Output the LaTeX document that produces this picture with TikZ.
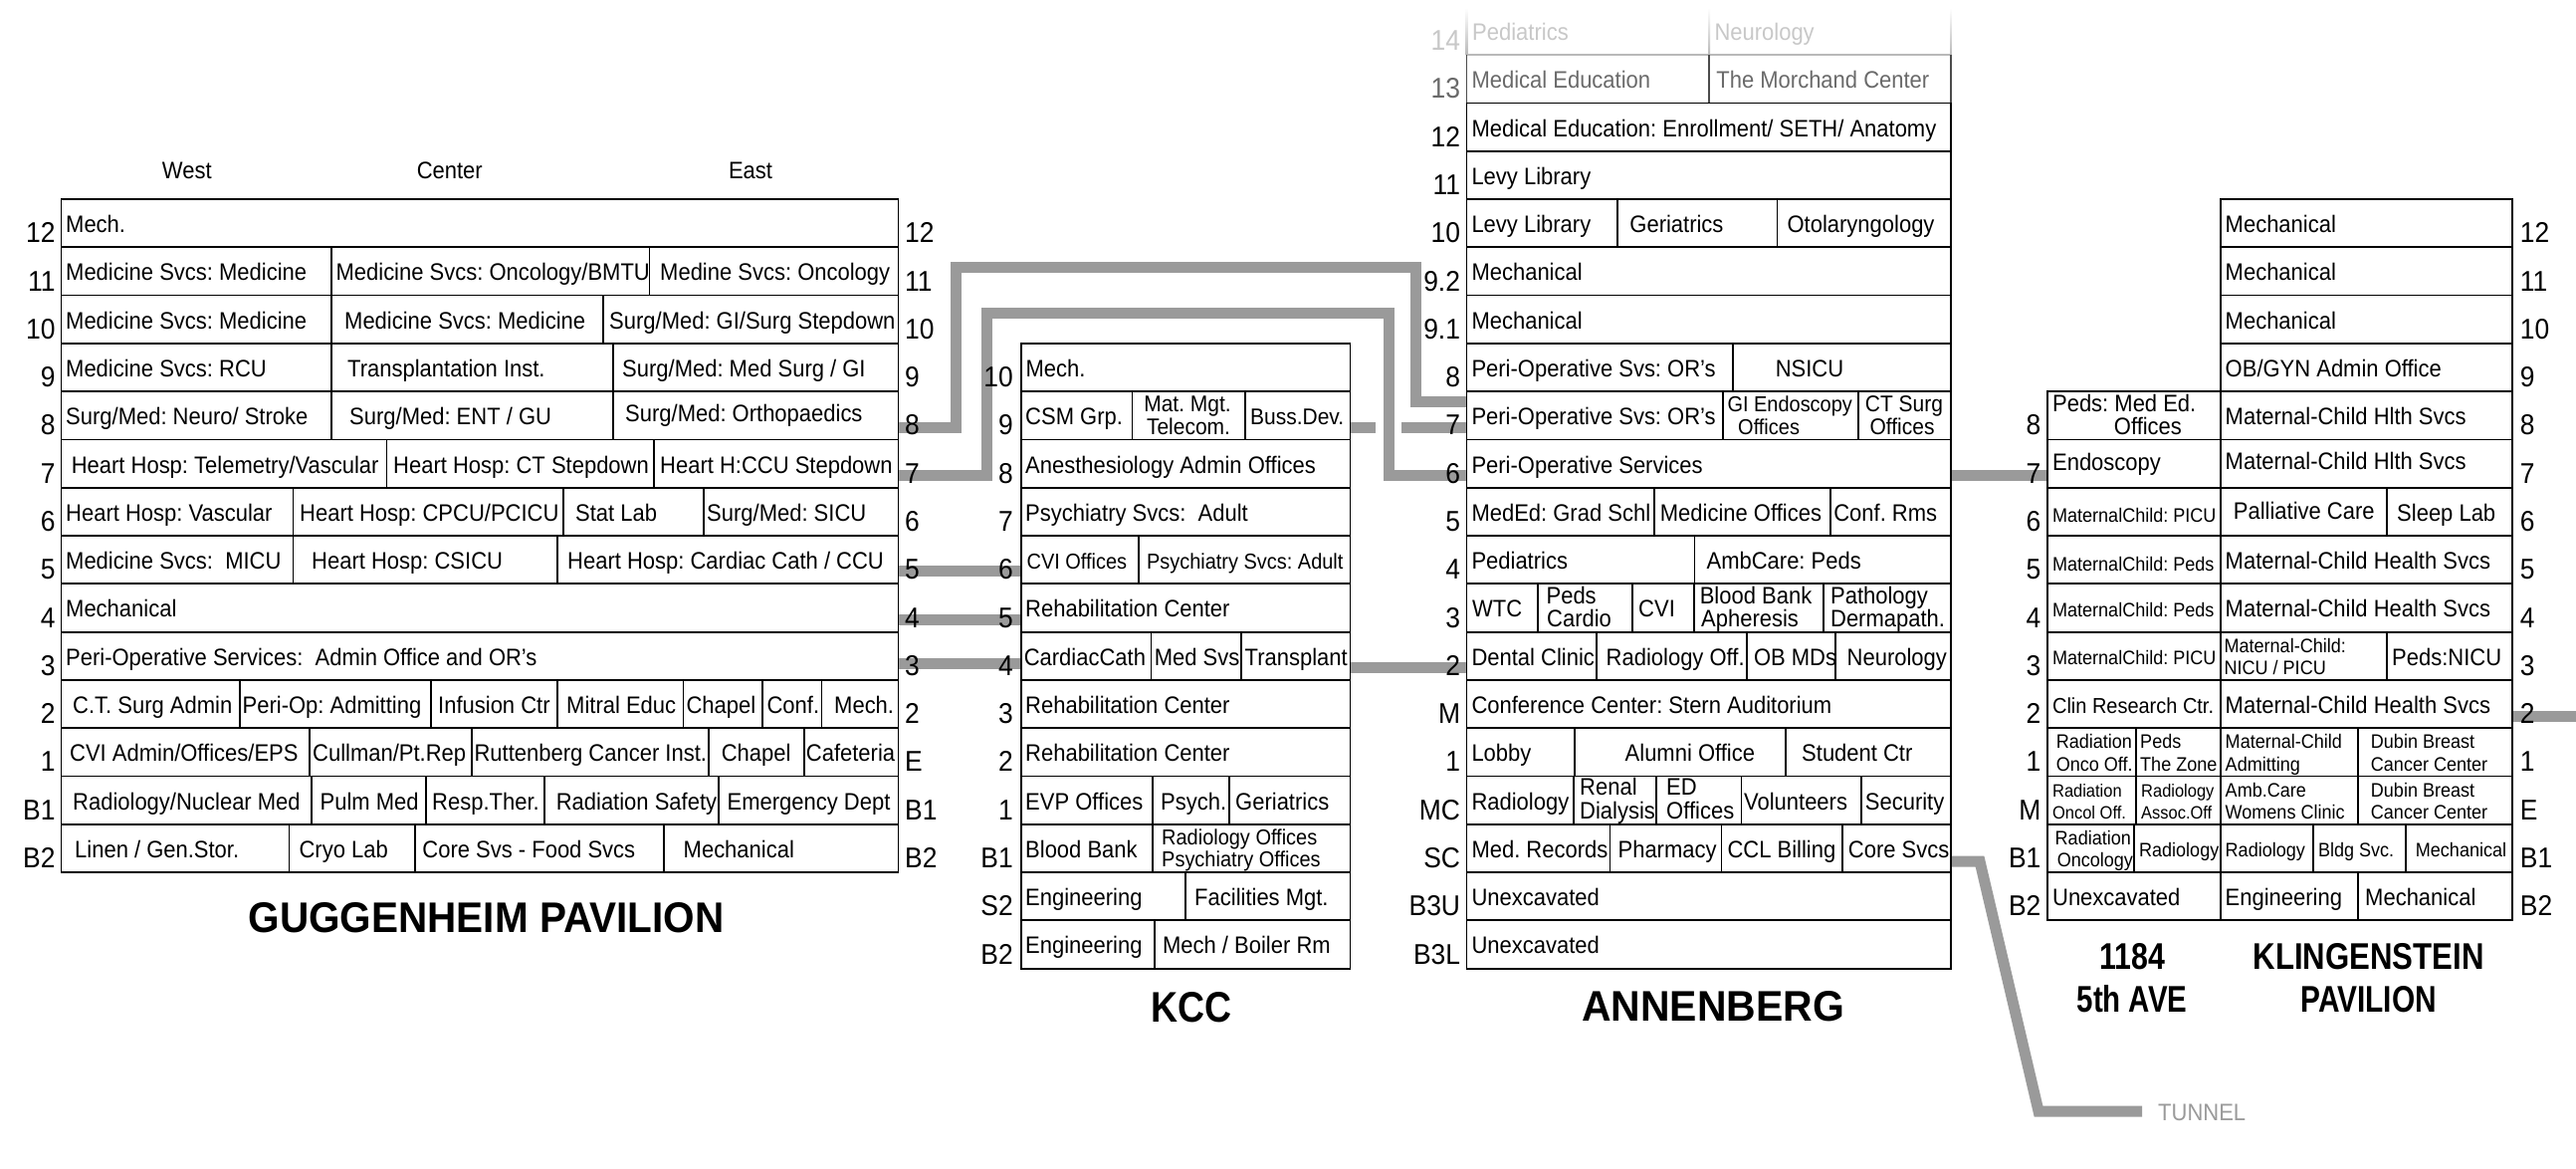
\documentclass[tikz,border=0pt]{standalone}
\usepackage{fontspec}
\usepackage{graphicx}
\setmainfont{Liberation Sans}[FakeStretch=0.92]
\newfontfamily\ttlfont{Liberation Sans}
\frenchspacing
\newcommand\fA{\fontsize{23.9}{24}\selectfont}
\newcommand\fB{\fontsize{21.7}{22}\selectfont}
\newcommand\fC{\fontsize{19.6}{20}\selectfont}
\newcommand\fD{\fontsize{17.9}{18}\selectfont}
\newcommand\fE{\fontsize{22.8}{23}\selectfont}
\newcommand\fL{\fontsize{28.7}{29}\selectfont}
\newcommand\fT{\ttlfont\bfseries\fontsize{43}{43}\selectfont}
\newcommand\fS{\ttlfont\bfseries\fontsize{37.3}{37.3}\selectfont}
\newcommand\apo{\char39\relax}
\definecolor{connc}{HTML}{9A9A9A}
\definecolor{fadeA}{HTML}{C8C8C8}
\definecolor{fadeB}{HTML}{6A6A6A}
\tikzset{
  boxline/.style={line width=1.8pt, draw=black},
  conn/.style={line width=11pt, draw=connc, line join=miter},
  tx/.style={anchor=base west, inner sep=0pt, font=\fA},
  txB/.style={tx, font=\fB},
  txC/.style={tx, font=\fC},
  txD/.style={tx, font=\fD},
  txE/.style={tx, font=\fE},
  lbL/.style={anchor=base east, inner sep=0pt, font=\fL},
  lbR/.style={anchor=base west, inner sep=0pt, font=\fL},
  ttlA/.style={anchor=base, inner sep=0pt, font=\fT},
  ttlB/.style={anchor=base, inner sep=0pt, font=\fS}
}
\begin{document}
\begin{tikzpicture}[x=1pt, y=-1pt,
  declare function={G(\k)=200+48.29*\k; B(\k)=G(\k)+33.6; S(\k)=G(\k)+33; U(\k)=G(\k)+20.6; V(\k)=G(\k)+43; L(\k)=G(\k)+43.8;}]
\fill[white] (0,0) rectangle (2588,1174);
\useasboundingbox (0,0) rectangle (2588,1174);

% ---------------- connectors ----------------
\coordinate (a0) at (902.5,429.5); \coordinate (a1) at (960,429.5);
\coordinate (a2) at (960,269);     \coordinate (a3) at (1422,269);
\coordinate (a4) at (1422,403);    \coordinate (a5) at (1473.5,403);
\draw[conn] (a0) -- (a1) -- (a2) -- (a3) -- (a4) -- (a5);
\coordinate (b0) at (902.5,477.5); \coordinate (b1) at (991.5,477.5);
\coordinate (b2) at (991.5,314);   \coordinate (b3) at (1395.5,314);
\coordinate (b4) at (1395.5,477.5);\coordinate (b5) at (1473.5,477.5);
\draw[conn] (b0) -- (b1) -- (b2) -- (b3) -- (b4) -- (b5);
\coordinate (c0) at (1356.4,429); \coordinate (c1) at (1382,429);
\coordinate (c2) at (1408,429);   \coordinate (c3) at (1473.5,429);
\draw[conn] (c0) -- (c1);
\draw[conn] (c2) -- (c3);
\coordinate (d0) at (902.5,573);  \coordinate (d1) at (1025.7,573);
\draw[conn] (d0) -- (d1);
\coordinate (e0) at (902.5,622.5);\coordinate (e1) at (1025.7,622.5);
\draw[conn] (e0) -- (e1);
\coordinate (f0) at (902.5,666);  \coordinate (f1) at (1025.7,666);
\draw[conn] (f0) -- (f1);
\coordinate (g0) at (1356.4,670); \coordinate (g1) at (1473.5,670);
\draw[conn] (g0) -- (g1);
\coordinate (h0) at (1960,477);   \coordinate (h1) at (2057,477);
\draw[conn] (h0) -- (h1);
\coordinate (i0) at (2524.2,719); \coordinate (i1) at (2588,719);
\draw[conn] (i0) -- (i1);
\coordinate (j0) at (1960,865);   \coordinate (j1) at (1989,865);
\coordinate (j2) at (2048,1116);  \coordinate (j3) at (2152,1116);
\draw[conn] (j0) -- (j1) -- (j2) -- (j3);
\node[tx, text=connc] (tunnel) at (2168,1125) {TUNNEL};

% ---------------- GUGGENHEIM ----------------
\node[tx, anchor=base] (hWest) at (187.8,179.3) {West};
\node[tx, anchor=base] (hCenter) at (451.8,179.3) {Center};
\node[tx, anchor=base] (hEast) at (754,179.3) {East};
\foreach \k in {0,...,13} \draw[boxline] (61.5,{G(\k)}) rectangle (902.5,{G(\k+1)});
\foreach \k/\x in {1/333.3,1/652.5,2/333.3,2/606.1,3/333.3,3/616.1,4/333.3,4/616.1,5/388.4,5/657.2,6/294.5,6/566.2,6/707,7/294.5,7/560.3,10/240.6,10/433,10/560.3,10/686.5,10/765.7,10/825.5,11/311,11/474.1,11/711.7,11/808,12/312.7,12/428.3,12/546.8,12/721.7,13/290.4,13/416.6,13/667.1}
  \draw[boxline] (\x,{G(\k)}) -- (\x,{G(\k+1)});
\node[tx] (g0a) at (66,{B(0)}) {Mech.};
\node[tx] (g1a) at (66,{B(1)}) {Medicine Svcs: Medicine};
\node[tx] (g1b) at (337.4,{B(1)}) {Medicine Svcs: Oncology/BMTU};
\node[tx] (g1c) at (663,{B(1)}) {Medine Svcs: Oncology};
\node[tx] (g2a) at (66,{B(2)}) {Medicine Svcs: Medicine};
\node[tx] (g2b) at (346,{B(2)}) {Medicine Svcs: Medicine};
\node[tx] (g2c) at (612,{B(2)}) {Surg/Med: GI/Surg Stepdown};
\node[tx] (g3a) at (66,{B(3)}) {Medicine Svcs: RCU};
\node[tx] (g3b) at (349,{B(3)}) {Transplantation Inst.};
\node[tx] (g3c) at (625,{B(3)}) {Surg/Med: Med Surg / GI};
\node[tx] (g4a) at (66,{B(4)}) {Surg/Med: Neuro/ Stroke};
\node[tx] (g4b) at (351,{B(4)}) {Surg/Med: ENT / GU};
\node[tx] (g4c) at (628,{B(4)-3}) {Surg/Med: Orthopaedics};
\node[tx] (g5a) at (71.6,{B(5)}) {Heart Hosp: Telemetry/Vascular};
\node[tx] (g5b) at (395,{B(5)}) {Heart Hosp: CT Stepdown};
\node[tx] (g5c) at (663,{B(5)}) {Heart H:CCU Stepdown};
\node[tx] (g6a) at (66,{B(6)}) {Heart Hosp: Vascular};
\node[tx] (g6b) at (301,{B(6)}) {Heart Hosp: CPCU/PCICU};
\node[tx] (g6c) at (578,{B(6)}) {Stat Lab};
\node[tx] (g6d) at (710,{B(6)}) {Surg/Med: SICU};
\node[tx] (g7a) at (66,{B(7)}) {Medicine Svcs:\ \ MICU};
\node[tx] (g7b) at (313,{B(7)}) {Heart Hosp: CSICU};
\node[tx] (g7c) at (570,{B(7)}) {Heart Hosp: Cardiac Cath / CCU};
\node[tx] (g8a) at (66,{B(8)}) {Mechanical};
\node[tx] (g9a) at (66,{B(9)}) {Peri-Operative Services:\ \ Admin Office and OR\apo s};
\node[tx] (g10a) at (73,{B(10)}) {C.T. Surg Admin};
\node[tx] (g10b) at (243.5,{B(10)}) {Peri-Op: Admitting};
\node[tx] (g10c) at (440,{B(10)}) {Infusion Ctr};
\node[tx] (g10d) at (569,{B(10)}) {Mitral Educ};
\node[tx] (g10e) at (689.4,{B(10)}) {Chapel};
\node[tx] (g10f) at (770.4,{B(10)}) {Conf.};
\node[tx] (g10g) at (838,{B(10)}) {Mech.};
\node[tx] (g11a) at (70,{B(11)}) {CVI Admin/Offices/EPS};
\node[tx] (g11b) at (314,{B(11)}) {Cullman/Pt.Rep};
\node[tx] (g11c) at (476.4,{B(11)}) {Ruttenberg Cancer Inst.};
\node[tx] (g11d) at (724.6,{B(11)}) {Chapel};
\node[tx] (g11e) at (809.7,{B(11)}) {Cafeteria};
\node[tx] (g12a) at (73,{B(12)}) {Radiology/Nuclear Med};
\node[tx] (g12b) at (321.5,{B(12)}) {Pulm Med};
\node[tx] (g12c) at (434,{B(12)}) {Resp.Ther.};
\node[tx] (g12d) at (558.6,{B(12)}) {Radiation Safety};
\node[tx] (g12e) at (730.5,{B(12)}) {Emergency Dept};
\node[tx] (g13a) at (75,{B(13)}) {Linen / Gen.Stor.};
\node[tx] (g13b) at (300.4,{B(13)}) {Cryo Lab};
\node[tx] (g13c) at (424.2,{B(13)}) {Core Svs - Food Svcs};
\node[tx] (g13d) at (686.5,{B(13)}) {Mechanical};
\foreach \n [count=\i from 0] in {12,11,10,9,8,7,6,5,4,3,2,1,B1,B2}
  \node[lbL] (gl\i) at (55.7,{L(\i)}) {\n};
\foreach \n [count=\i from 0] in {12,11,10,9,8,7,6,5,4,3,2,E,B1,B2}
  \node[lbR] (gr\i) at (909,{L(\i)}) {\n};
\node[ttlA] (tGug) at (488.5,936.7) {\scalebox{0.942}[1]{GUGGENHEIM PAVILION}};

% ---------------- KCC ----------------
\foreach \k in {3,...,15} \draw[boxline] (1025.7,{G(\k)}) rectangle (1356.4,{G(\k+1)});
\foreach \k/\x in {4/1137.5,4/1251,7/1143.6,9/1156.4,9/1247.1,12/1157.9,12/1235,13/1157.9,14/1191,15/1159.6}
  \draw[boxline] (\x,{G(\k)}) -- (\x,{G(\k+1)});
\node[tx] (k3a) at (1030.4,{B(3)}) {Mech.};
\node[tx] (k4a) at (1030,{B(4)}) {CSM Grp.};
\node[txE, anchor=base] (k4b) at (1193,{U(4)}) {Mat. Mgt.};
\node[txE, anchor=base] (k4c) at (1194,{V(4)}) {Telecom.};
\node[txE] (k4d) at (1256,{B(4)}) {Buss.Dev.};
\node[tx] (k5a) at (1030,{B(5)}) {Anesthesiology Admin Offices};
\node[tx] (k6a) at (1030,{B(6)}) {Psychiatry Svcs:\ \ Adult};
\node[txB] (k7a) at (1031.4,{S(7)}) {CVI Offices};
\node[txB] (k7b) at (1151.8,{S(7)}) {Psychiatry Svcs: Adult};
\node[tx] (k8a) at (1030,{B(8)}) {Rehabilitation Center};
\node[tx] (k9a) at (1028.6,{B(9)}) {CardiacCath};
\node[tx] (k9b) at (1159.6,{B(9)}) {Med Svs};
\node[tx] (k9c) at (1250.5,{B(9)}) {Transplant};
\node[tx] (k10a) at (1030,{B(10)}) {Rehabilitation Center};
\node[tx] (k11a) at (1030,{B(11)}) {Rehabilitation Center};
\node[tx] (k12a) at (1030,{B(12)}) {EVP Offices};
\node[tx] (k12b) at (1166,{B(12)}) {Psych.};
\node[tx] (k12c) at (1241,{B(12)}) {Geriatrics};
\node[tx] (k13a) at (1030,{B(13)}) {Blood Bank};
\node[txB] (k13b) at (1167,{U(13)}) {Radiology Offices};
\node[txB] (k13c) at (1167,{V(13)}) {Psychiatry Offices};
\node[tx] (k14a) at (1030,{B(14)}) {Engineering};
\node[tx] (k14b) at (1200,{B(14)}) {Facilities Mgt.};
\node[tx] (k15a) at (1030,{B(15)}) {Engineering};
\node[tx] (k15b) at (1167.9,{B(15)}) {Mech / Boiler Rm};
\foreach \n [count=\i from 3] in {10,9,8,7,6,5,4,3,2,1,B1,S2,B2}
  \node[lbL] (kl\i) at (1017.9,{L(\i)}) {\n};
\node[ttlA] (tKcc) at (1197,1026.7) {\scalebox{0.87}[1]{KCC}};

% ---------------- ANNENBERG ----------------
\foreach \x in {1473.5,1717.1,1960}
  \shade[top color=white, bottom color=gray!55] ({\x-0.9},8) rectangle ({\x+0.9},{G(-3)});
\draw[line width=1.8pt, draw=gray!55] (1473.5,{G(-3)}) -- (1960,{G(-3)});
\foreach \x in {1473.5,1717.1,1960}
  \draw[line width=1.8pt, draw=gray!60!black] (\x,{G(-3)}) -- (\x,{G(-2)});
\foreach \k in {-2,...,15} \draw[boxline] (1473.5,{G(\k)}) rectangle (1960,{G(\k+1)});
\foreach \k/\x in {0/1624.6,0/1785.5,3/1740.8,4/1730.6,4/1866.6,6/1662.2,6/1838.9,7/1702.5,8/1545.1,8/1639.6,8/1701.7,8/1831.8,9/1603.6,9/1755.1,9/1843.7,11/1581.9,11/1794.2,12/1580.7,12/1664.1,12/1749.5,12/1869.7,13/1617.5,13/1729.4,13/1850.8}
  \draw[boxline] (\x,{G(\k)}) -- (\x,{G(\k+1)});
\node[tx, text=fadeA] (an14a) at (1479,{B(-4)}) {Pediatrics};
\node[tx, text=fadeA] (an14b) at (1722.3,{B(-4)}) {Neurology};
\node[tx, text=fadeB] (an13a) at (1478.3,{B(-3)}) {Medical Education};
\node[tx, text=fadeB] (an13b) at (1724.2,{B(-3)}) {The Morchand Center};
\node[tx] (an12a) at (1478.3,{B(-2)}) {Medical Education: Enrollment/ SETH/ Anatomy};
\node[tx] (an11a) at (1478.3,{B(-1)}) {Levy Library};
\node[tx] (an10a) at (1478.3,{B(0)}) {Levy Library};
\node[tx] (an10b) at (1637.2,{B(0)}) {Geriatrics};
\node[tx] (an10c) at (1795.4,{B(0)}) {Otolaryngology};
\node[tx] (an92a) at (1478.3,{B(1)}) {Mechanical};
\node[tx] (an91a) at (1478.3,{B(2)}) {Mechanical};
\node[tx] (an8a) at (1478.3,{B(3)}) {Peri-Operative Svs: OR\apo s};
\node[tx] (an8b) at (1783.6,{B(3)}) {NSICU};
\node[tx] (an7a) at (1478.3,{B(4)}) {Peri-Operative Svs: OR\apo s};
\node[txB] (an7b) at (1735.3,{U(4)}) {GI Endoscopy};
\node[txB] (an7c) at (1746,{V(4)}) {Offices};
\node[txE] (an7d) at (1873.7,{U(4)}) {CT Surg};
\node[txE] (an7e) at (1878.4,{V(4)}) {Offices};
\node[tx] (an6a) at (1478.3,{B(5)}) {Peri-Operative Services};
\node[tx] (an5a) at (1478.3,{B(6)}) {MedEd: Grad Schl};
\node[tx] (an5b) at (1667.7,{B(6)}) {Medicine Offices};
\node[tx] (an5c) at (1842.1,{B(6)}) {Conf. Rms};
\node[tx] (an4a) at (1478.3,{B(7)}) {Pediatrics};
\node[tx] (an4b) at (1714.4,{B(7)}) {AmbCare: Peds};
\node[tx] (an3a) at (1479,{B(8)}) {WTC};
\node[tx] (an3b) at (1553.4,{U(8)}) {Peds};
\node[tx] (an3c) at (1554,{V(8)}) {Cardio};
\node[tx] (an3d) at (1646,{B(8)}) {CVI};
\node[tx] (an3e) at (1707.6,{U(8)}) {Blood Bank};
\node[tx] (an3f) at (1709,{V(8)}) {Apheresis};
\node[tx] (an3g) at (1838.9,{U(8)}) {Pathology};
\node[tx] (an3h) at (1838.9,{V(8)}) {Dermapath.};
\node[tx] (an2a) at (1478.3,{B(9)}) {Dental Clinic};
\node[tx] (an2b) at (1613.5,{B(9)}) {Radiology Off.};
\node[tx] (an2c) at (1761.8,{B(9)}) {OB MDs};
\node[tx] (an2d) at (1855.5,{B(9)}) {Neurology};
\node[tx] (anMa) at (1478.3,{B(10)}) {Conference Center: Stern Auditorium};
\node[tx] (an1a) at (1478.3,{B(11)}) {Lobby};
\node[tx] (an1b) at (1632.5,{B(11)}) {Alumni Office};
\node[tx] (an1c) at (1810,{B(11)}) {Student Ctr};
\node[tx] (anMCa) at (1478.3,{B(12)}) {Radiology};
\node[tx] (anMCb) at (1587,{U(12)-2}) {Renal};
\node[tx] (anMCc) at (1587,{V(12)}) {Dialysis};
\node[tx] (anMCd) at (1674,{U(12)-2}) {ED};
\node[tx] (anMCe) at (1674,{V(12)}) {Offices};
\node[tx] (anMCf) at (1751.9,{B(12)}) {Volunteers};
\node[tx] (anMCg) at (1873.7,{B(12)}) {Security};
\node[tx] (anSCa) at (1478.3,{B(13)}) {Med. Records};
\node[tx] (anSCb) at (1625.4,{B(13)}) {Pharmacy};
\node[tx] (anSCc) at (1735.3,{B(13)}) {CCL Billing};
\node[tx] (anSCd) at (1856.7,{B(13)}) {Core Svcs};
\node[tx] (anB3Ua) at (1478.3,{B(14)}) {Unexcavated};
\node[tx] (anB3La) at (1478.3,{B(15)}) {Unexcavated};
\node[lbL, text=fadeA] (al14) at (1467.2,{L(-4)}) {14};
\node[lbL, text=fadeB] (al13) at (1467.2,{L(-3)}) {13};
\foreach \n [count=\i from 1] in {12,11,10,9.2,9.1,8,7,6,5,4,3,2,M,1,MC,SC,B3U,B3L}
  \node[lbL] (al\i) at (1467.2,{L(\i-3)}) {\n};
\node[ttlA] (tAnn) at (1721,1025) {\scalebox{0.952}[1]{ANNENBERG}};

% ---------------- 1184 5th AVE ----------------
\foreach \k in {4,...,14} \draw[boxline] (2057,{G(\k)}) rectangle (2231,{G(\k+1)});
\foreach \k/\x in {11/2146.2,12/2146.2,13/2143.6}
  \draw[boxline] (\x,{G(\k)}) -- (\x,{G(\k+1)});
\node[tx] (f8a) at (2061.9,{U(4)}) {Peds: Med Ed.};
\node[tx] (f8b) at (2123.7,{V(4)}) {Offices};
\node[tx] (f7a) at (2061.9,{B(5)-3}) {Endoscopy};
\node[txC] (f6a) at (2061.9,{S(6)+2}) {MaternalChild: PICU};
\node[txC] (f5a) at (2061.9,{S(7)+2}) {MaternalChild: Peds};
\node[txC] (f4a) at (2061.9,{S(8)}) {MaternalChild: Peds};
\node[txC] (f3a) at (2061.9,{S(9)}) {MaternalChild: PICU};
\node[txB] (f2a) at (2061.9,{B(10)}) {Clin Research Ctr.};
\node[txC] (f1a) at (2065.6,{U(11)}) {Radiation};
\node[txC] (f1b) at (2065.6,{V(11)}) {Onco Off.};
\node[txC] (f1c) at (2150,{U(11)}) {Peds};
\node[txC] (f1d) at (2150,{V(11)}) {The Zone};
\node[txD] (fMa) at (2061.9,{U(12)}) {Radiation};
\node[txD] (fMb) at (2061.9,{V(12)}) {Oncol Off.};
\node[txD] (fMc) at (2151,{U(12)}) {Radiology};
\node[txD] (fMd) at (2151,{V(12)}) {Assoc.Off};
\node[txC] (fB1a) at (2064.5,{U(13)}) {Radiation};
\node[txC] (fB1b) at (2066.6,{V(13)}) {Oncology};
\node[txC] (fB1c) at (2148.9,{S(13)}) {Radiology};
\node[tx] (fB2a) at (2061.9,{B(14)}) {Unexcavated};
\foreach \n [count=\i from 4] in {8,7,6,5,4,3,2,1,M,B1,B2}
  \node[lbL] (fl\i) at (2050.6,{L(\i)}) {\n};
\node[ttlB] (t1184a) at (2142.5,973.3) {\scalebox{0.813}[1]{1184}};
\node[ttlB] (t1184b) at (2142,1016) {\scalebox{0.79}[1]{5th AVE}};

% ---------------- KLINGENSTEIN ----------------
\foreach \k in {0,...,14} \draw[boxline] (2231,{G(\k)}) rectangle (2524.2,{G(\k+1)});
\foreach \k/\x in {6/2398.2,9/2398.2,11/2369.3,12/2369.3,13/2323.6,13/2417.3,14/2369.3}
  \draw[boxline] (\x,{G(\k)}) -- (\x,{G(\k+1)});
\node[tx] (kp12a) at (2235.5,{B(0)}) {Mechanical};
\node[tx] (kp11a) at (2235.5,{B(1)}) {Mechanical};
\node[tx] (kp10a) at (2235.5,{B(2)}) {Mechanical};
\node[tx] (kp9a) at (2235.5,{B(3)}) {OB/GYN Admin Office};
\node[tx] (kp8a) at (2235.5,{B(4)}) {Maternal-Child Hlth Svcs};
\node[tx] (kp7a) at (2235.5,{B(5)-4}) {Maternal-Child Hlth Svcs};
\node[tx] (kp6a) at (2243.7,{B(6)-2}) {Palliative Care};
\node[tx] (kp6b) at (2408,{B(6)}) {Sleep Lab};
\node[tx] (kp5a) at (2235.5,{B(7)}) {Maternal-Child Health Svcs};
\node[tx] (kp4a) at (2235.5,{B(8)}) {Maternal-Child Health Svcs};
\node[txC] (kp3a) at (2234.4,{U(9)}) {Maternal-Child:};
\node[txC] (kp3b) at (2234.4,{V(9)}) {NICU / PICU};
\node[tx] (kp3c) at (2403,{B(9)}) {Peds:NICU};
\node[tx] (kp2a) at (2235.5,{B(10)}) {Maternal-Child Health Svcs};
\node[txC] (kp1a) at (2235.5,{U(11)}) {Maternal-Child};
\node[txC] (kp1b) at (2235.5,{V(11)}) {Admitting};
\node[txC] (kp1c) at (2381.7,{U(11)}) {Dubin Breast};
\node[txC] (kp1d) at (2381.7,{V(11)}) {Cancer Center};
\node[txC] (kpEa) at (2235.5,{U(12)}) {Amb.Care};
\node[txC] (kpEb) at (2235.5,{V(12)}) {Womens Clinic};
\node[txC] (kpEc) at (2381.7,{U(12)}) {Dubin Breast};
\node[txC] (kpEd) at (2381.7,{V(12)}) {Cancer Center};
\node[txC] (kpB1a) at (2235.5,{S(13)}) {Radiology};
\node[txC] (kpB1b) at (2328.8,{S(13)}) {Bldg Svc.};
\node[txC] (kpB1c) at (2426.7,{S(13)}) {Mechanical};
\node[tx] (kpB2a) at (2235.5,{B(14)}) {Engineering};
\node[tx] (kpB2b) at (2376,{B(14)}) {Mechanical};
\foreach \n [count=\i from 0] in {12,11,10,9,8,7,6,5,4,3,2,1,E,B1,B2}
  \node[lbR] (kr\i) at (2531.7,{L(\i)}) {\n};
\node[ttlB] (tKl1) at (2379.6,973.3) {\scalebox{0.835}[1]{KLINGENSTEIN}};
\node[ttlB] (tKl2) at (2379.7,1016) {\scalebox{0.80}[1]{PAVILION}};
\end{tikzpicture}
\end{document}
